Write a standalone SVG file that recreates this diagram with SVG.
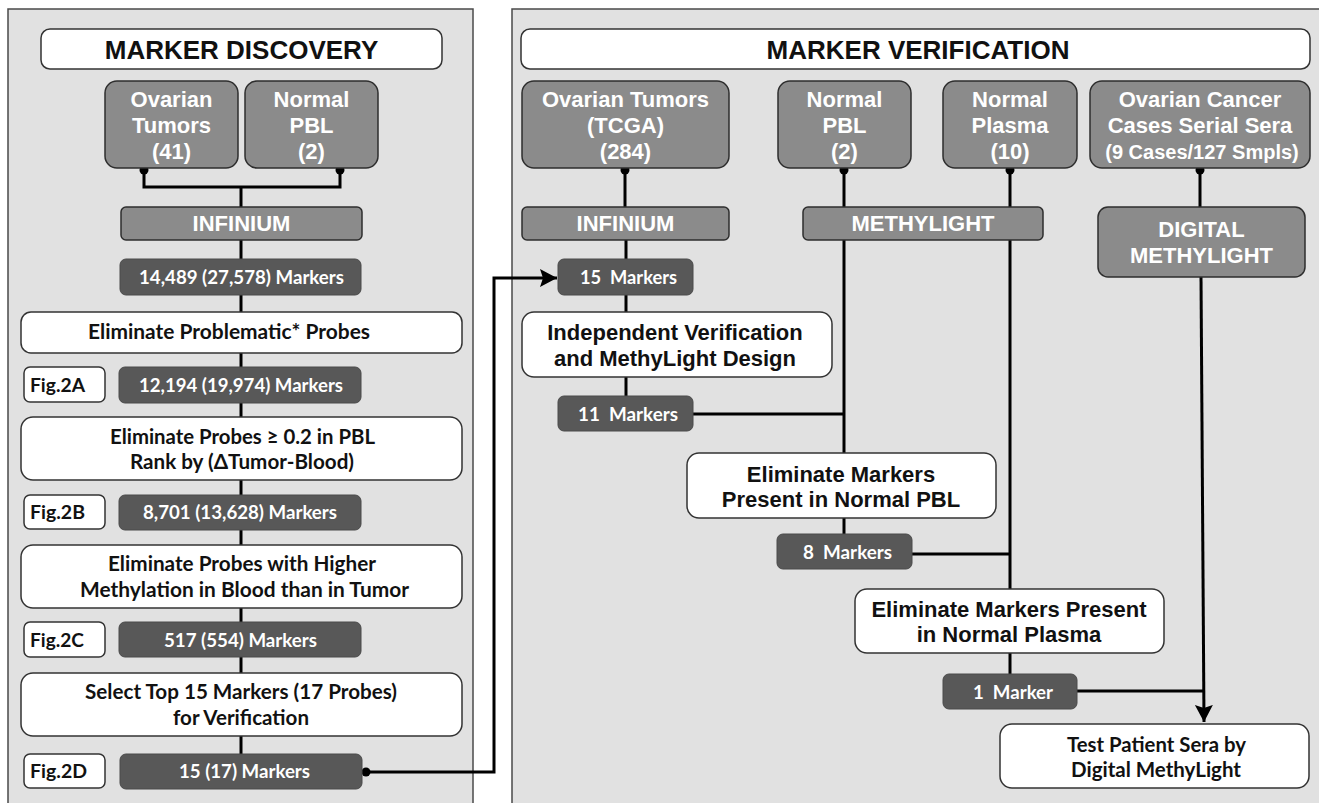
<svg xmlns="http://www.w3.org/2000/svg" width="1319" height="803" viewBox="0 0 1319 803">
<defs>
<style>
.panel{fill:#e1e1e1;stroke:#4a4a4a;stroke-width:1.5}
.title{fill:#fff;stroke:#333;stroke-width:1.5}
.gray{fill:#8b8b8b;stroke:#2e2e2e;stroke-width:1.5}
.dark{fill:#585858;stroke:#4a4a4a;stroke-width:1}
.white{fill:#fff;stroke:#333;stroke-width:1.5}
.ttl{font-family:"Liberation Sans",Arial,sans-serif;font-weight:bold;font-size:26px;fill:#111;text-anchor:middle}
.gt{font-family:"Liberation Sans",Arial,sans-serif;font-weight:bold;font-size:22px;fill:#fff;text-anchor:middle}
.at{font-family:"Liberation Sans",Arial,sans-serif;font-weight:bold;font-size:22px;fill:#111;text-anchor:middle}
.ct{font-family:Lato,"Open Sans",sans-serif;font-weight:bold;font-size:20px;fill:#111;text-anchor:middle}
.dt{font-family:Lato,"Open Sans",sans-serif;font-weight:bold;font-size:18px;fill:#fff;text-anchor:middle}
.ft{font-family:Lato,"Open Sans",sans-serif;font-weight:bold;font-size:19px;fill:#111}
.ln{fill:none;stroke:#000;stroke-width:3}
</style>
<marker id="dot" markerWidth="10" markerHeight="10" refX="5" refY="5" markerUnits="userSpaceOnUse">
<circle cx="5" cy="5" r="4.5" fill="#000"/>
</marker>
<marker id="arr" markerWidth="20" markerHeight="20" refX="17" refY="9" orient="auto" markerUnits="userSpaceOnUse">
<path d="M0,0 L17,9 L0,18 L3,9 Z" fill="#000"/>
</marker>
</defs>

<g id="panels">
<rect class="panel" x="8" y="9" width="465" height="810"/>
<rect class="panel" x="512" y="9" width="820" height="810"/>
</g>

<g id="connectors">
<path class="ln" d="M144,170 V187 H340 V170" marker-start="url(#dot)" marker-end="url(#dot)"/>
<path class="ln" d="M241,187 V207"/>
<path class="ln" d="M241,240 V259"/>
<path class="ln" d="M241,295 V312"/>
<path class="ln" d="M241,353 V367"/>
<path class="ln" d="M241,403 V417"/>
<path class="ln" d="M241,480 V495"/>
<path class="ln" d="M241,529 V545"/>
<path class="ln" d="M241,608 V622"/>
<path class="ln" d="M241,657 V673"/>
<path class="ln" d="M241,736 V754"/>
<path class="ln" d="M366,772 H494 V278 H557" marker-start="url(#dot)" marker-end="url(#arr)"/>
<path class="ln" d="M625,170 V207" marker-start="url(#dot)"/>
<path class="ln" d="M844,170 V207" marker-start="url(#dot)"/>
<path class="ln" d="M1010,170 V207" marker-start="url(#dot)"/>
<path class="ln" d="M1200,170 V207" marker-start="url(#dot)"/>
<path class="ln" d="M626,240 V259"/>
<path class="ln" d="M626,295 V312"/>
<path class="ln" d="M626,377 V396"/>
<path class="ln" d="M844,240 V453"/>
<path class="ln" d="M693,414 H844"/>
<path class="ln" d="M844,518 V534"/>
<path class="ln" d="M1010,240 V589"/>
<path class="ln" d="M912,554 H1010"/>
<path class="ln" d="M1010,653 V674"/>
<path class="ln" d="M1077,691 H1203"/>
<path class="ln" d="M1201,277 L1204,722" marker-end="url(#arr)"/>
</g>

<g id="discovery-title"><rect class="title" x="41" y="29" width="401" height="40" rx="9"/><text class="ttl" x="241.5" y="59">MARKER DISCOVERY</text></g>
<g id="d-ovarian"><rect class="gray" x="105" y="81" width="133" height="87" rx="12"/><text class="gt" x="171.5" y="107">Ovarian</text><text class="gt" x="171.5" y="133">Tumors</text><text class="gt" x="171.5" y="159">(41)</text></g>
<g id="d-pbl"><rect class="gray" x="245" y="81" width="133" height="87" rx="12"/><text class="gt" x="311.5" y="107">Normal</text><text class="gt" x="311.5" y="133">PBL</text><text class="gt" x="311.5" y="159">(2)</text></g>
<g id="d-infinium"><rect class="gray" x="121" y="207" width="241" height="33" rx="5"/><text class="gt" x="241.5" y="231">INFINIUM</text></g>
<g id="d-m1"><rect class="dark" x="120" y="259" width="241" height="36" rx="6"/><text class="dt" x="241.5" y="284" textLength="205" lengthAdjust="spacingAndGlyphs">14,489 (27,578) Markers</text></g>
<g id="d-elim1"><rect class="white" x="21" y="312" width="441" height="41" rx="10"/><text class="ct" x="229" y="339" textLength="282" lengthAdjust="spacingAndGlyphs">Eliminate Problematic* Probes</text></g>
<g id="fig2a"><rect class="white" x="24" y="367" width="81" height="35" rx="6"/><text class="ft" x="30" y="392" textLength="55" lengthAdjust="spacingAndGlyphs">Fig.2A</text></g>
<g id="d-m2"><rect class="dark" x="119" y="367" width="242" height="36" rx="6"/><text class="dt" x="241" y="392" textLength="204" lengthAdjust="spacingAndGlyphs">12,194 (19,974) Markers</text></g>
<g id="d-elim2"><rect class="white" x="21" y="417" width="441" height="63" rx="12"/><text class="ct" x="242.5" y="444" textLength="265" lengthAdjust="spacingAndGlyphs">Eliminate Probes ≥ 0.2 in PBL</text><text class="ct" x="242" y="469" textLength="224" lengthAdjust="spacingAndGlyphs">Rank by (ΔTumor-Blood)</text></g>
<g id="fig2b"><rect class="white" x="24" y="495" width="81" height="34" rx="6"/><text class="ft" x="30" y="519" textLength="55" lengthAdjust="spacingAndGlyphs">Fig.2B</text></g>
<g id="d-m3"><rect class="dark" x="119" y="495" width="242" height="35" rx="6"/><text class="dt" x="240" y="519" textLength="194" lengthAdjust="spacingAndGlyphs">8,701 (13,628) Markers</text></g>
<g id="d-elim3"><rect class="white" x="21" y="545" width="441" height="63" rx="12"/><text class="ct" x="242" y="571" textLength="268" lengthAdjust="spacingAndGlyphs">Eliminate Probes with Higher</text><text class="ct" x="244.5" y="597" textLength="329" lengthAdjust="spacingAndGlyphs">Methylation in Blood than in Tumor</text></g>
<g id="fig2c"><rect class="white" x="24" y="622" width="81" height="35" rx="6"/><text class="ft" x="30" y="647" textLength="54" lengthAdjust="spacingAndGlyphs">Fig.2C</text></g>
<g id="d-m4"><rect class="dark" x="119" y="622" width="242" height="35" rx="6"/><text class="dt" x="240.5" y="647" textLength="153" lengthAdjust="spacingAndGlyphs">517 (554) Markers</text></g>
<g id="d-select"><rect class="white" x="21" y="673" width="441" height="63" rx="12"/><text class="ct" x="241" y="699" textLength="312" lengthAdjust="spacingAndGlyphs">Select Top 15 Markers (17 Probes)</text><text class="ct" x="241" y="725" textLength="136" lengthAdjust="spacingAndGlyphs">for Verification</text></g>
<g id="fig2d"><rect class="white" x="24" y="754" width="81" height="34" rx="6"/><text class="ft" x="30" y="778" textLength="57" lengthAdjust="spacingAndGlyphs">Fig.2D</text></g>
<g id="d-m5"><rect class="dark" x="120" y="754" width="242" height="35" rx="6"/><text class="dt" x="244.5" y="778" textLength="131" lengthAdjust="spacingAndGlyphs">15 (17) Markers</text></g>

<g id="verification-title"><rect class="title" x="521" y="29" width="789" height="40" rx="9"/><text class="ttl" x="918" y="59">MARKER VERIFICATION</text></g>
<g id="v-tcga"><rect class="gray" x="522" y="81" width="207" height="87" rx="12"/><text class="gt" x="625.5" y="107">Ovarian Tumors</text><text class="gt" x="625.5" y="133">(TCGA)</text><text class="gt" x="625.5" y="159">(284)</text></g>
<g id="v-pbl"><rect class="gray" x="778" y="81" width="133" height="87" rx="12"/><text class="gt" x="844.5" y="107">Normal</text><text class="gt" x="844.5" y="133">PBL</text><text class="gt" x="844.5" y="159">(2)</text></g>
<g id="v-plasma"><rect class="gray" x="943" y="81" width="134" height="87" rx="12"/><text class="gt" x="1010" y="107">Normal</text><text class="gt" x="1010" y="133">Plasma</text><text class="gt" x="1010" y="159">(10)</text></g>
<g id="v-sera"><rect class="gray" x="1090" y="81" width="220" height="87" rx="12"/><text class="gt" x="1200" y="107">Ovarian Cancer</text><text class="gt" x="1200" y="133">Cases Serial Sera</text><text class="gt" x="1202" y="159" style="font-size:20px">(9 Cases/127 Smpls)</text></g>
<g id="v-infinium"><rect class="gray" x="522" y="207" width="207" height="33" rx="5"/><text class="gt" x="625.5" y="231">INFINIUM</text></g>
<g id="v-methylight"><rect class="gray" x="803" y="207" width="240" height="33" rx="5"/><text class="gt" x="923" y="231">METHYLIGHT</text></g>
<g id="v-digital"><rect class="gray" x="1098" y="207" width="207" height="70" rx="10"/><text class="gt" x="1201.5" y="237">DIGITAL</text><text class="gt" x="1201.5" y="263">METHYLIGHT</text></g>
<g id="v-m15"><rect class="dark" x="558" y="259" width="135" height="36" rx="6"/><text class="dt" x="628.5" y="284" textLength="97" lengthAdjust="spacingAndGlyphs" xml:space="preserve">15  Markers</text></g>
<g id="v-indep"><rect class="white" x="522" y="312" width="310" height="65" rx="12"/><text class="at" x="675" y="340">Independent Verification</text><text class="at" x="675" y="366">and MethyLight Design</text></g>
<g id="v-m11"><rect class="dark" x="558" y="396" width="135" height="35" rx="6"/><text class="dt" x="628" y="421" textLength="100" lengthAdjust="spacingAndGlyphs" xml:space="preserve">11  Markers</text></g>
<g id="v-elimpbl"><rect class="white" x="687" y="453" width="309" height="65" rx="12"/><text class="at" x="841" y="482">Eliminate Markers</text><text class="at" x="841" y="507">Present in Normal PBL</text></g>
<g id="v-m8"><rect class="dark" x="777" y="534" width="135" height="35" rx="6"/><text class="dt" x="847.5" y="559" textLength="89" lengthAdjust="spacingAndGlyphs" xml:space="preserve">8  Markers</text></g>
<g id="v-elimplasma"><rect class="white" x="855" y="589" width="309" height="64" rx="12"/><text class="at" x="1009" y="617">Eliminate Markers Present</text><text class="at" x="1009" y="642">in Normal Plasma</text></g>
<g id="v-m1"><rect class="dark" x="943" y="674" width="134" height="35" rx="6"/><text class="dt" x="1013" y="699" textLength="80" lengthAdjust="spacingAndGlyphs" xml:space="preserve">1  Marker</text></g>
<g id="v-test"><rect class="white" x="1000" y="724" width="309" height="64" rx="12"/><text class="ct" x="1156.5" y="752" textLength="179" lengthAdjust="spacingAndGlyphs">Test Patient Sera by</text><text class="ct" x="1156" y="777" textLength="170" lengthAdjust="spacingAndGlyphs">Digital MethyLight</text></g>
</svg>
